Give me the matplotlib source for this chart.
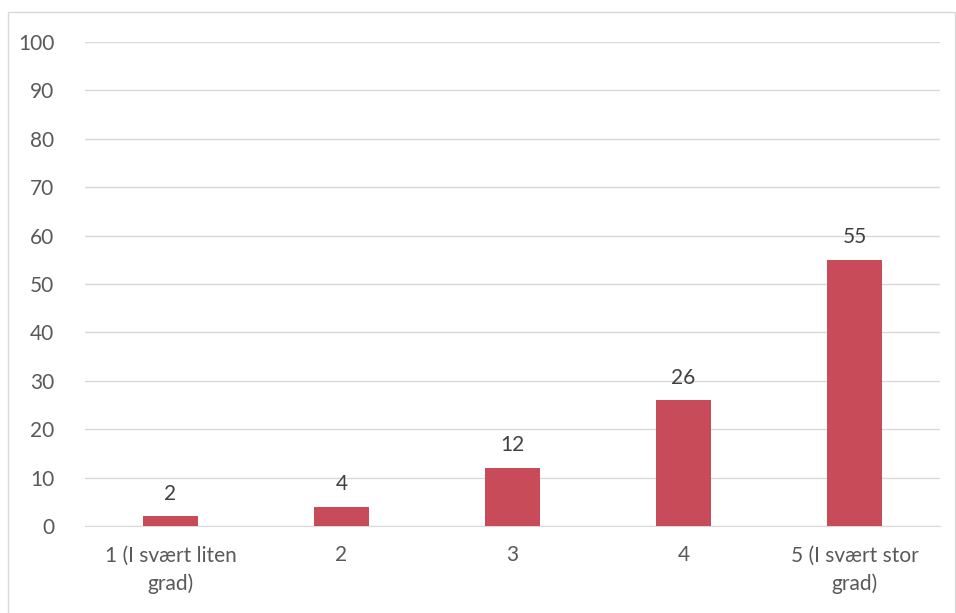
import matplotlib
matplotlib.use("Agg")
import matplotlib.pyplot as plt
from matplotlib.patches import Rectangle

categories = ["1 (I svært liten\ngrad)", "2", "3", "4", "5 (I svært stor\ngrad)"]
values = [2, 4, 12, 26, 55]
yticks = [0, 10, 20, 30, 40, 50, 60, 70, 80, 90, 100]

plt.rcParams['font.family'] = ['Lato', 'DejaVu Sans']
W, H = 956, 613
fig = plt.figure(figsize=(W/100, H/100), dpi=100)
fig.patches.append(Rectangle((8/W, -0.01), (W-9)/W, (H-12)/H + 0.01, transform=fig.transFigure,
                             fill=False, edgecolor='#d9d9d9', linewidth=1))
ax = fig.add_axes([85/W, 1-526/H, 855/W, (526-42)/H])
x = range(len(values))
ax.bar(x, values, width=0.316, color='#C84B5A', zorder=3)
for xi, v in zip(x, values):
    ax.annotate(str(v), (xi, v), xytext=(0, 9), textcoords='offset points',
                ha='center', va='bottom', fontsize=15, color='#404040')
ax.set_xlim(-0.5, len(values)-0.5)
ax.set_ylim(0, 100)
ax.set_yticks(yticks)
ax.set_xticks(list(x))
ax.set_xticklabels(categories, linespacing=1.45)
ax.grid(axis='y', color='#d9d9d9', linewidth=1, zorder=0)
for s in ['top', 'right', 'left']:
    ax.spines[s].set_visible(False)
ax.spines['bottom'].set_color('#d9d9d9')
ax.tick_params(axis='both', length=0, labelsize=15, labelcolor='#595959')
ax.tick_params(axis='y', pad=22)
ax.tick_params(axis='x', pad=14)
fig.savefig('out.png', dpi=100)
